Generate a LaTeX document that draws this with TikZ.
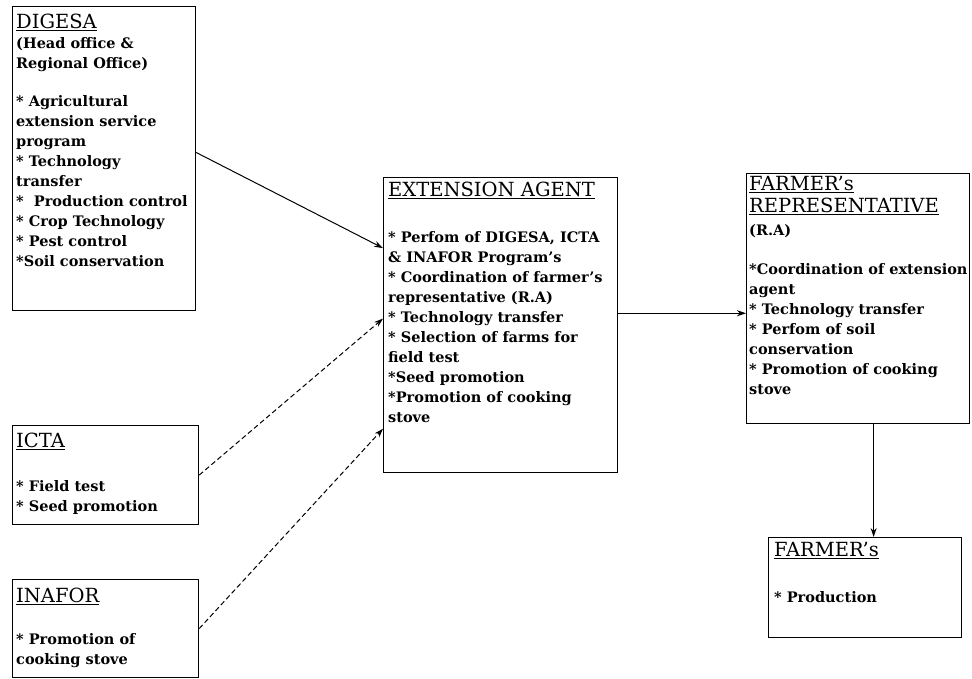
\documentclass[tikz,border=0pt]{standalone}
\usepackage{fontspec}
\setmainfont{DejaVu Serif}
\usetikzlibrary{arrows.meta,calc}
\newcommand{\ttl}[1]{{\fontsize{19.5}{20}\selectfont\mdseries\underline{#1}}}
\begin{document}
\begin{tikzpicture}[x=1pt,y=-1pt,
  frame/.style={draw, line width=1.2pt, inner sep=0pt, anchor=north west},
  txt/.style={anchor=north west, inner sep=0pt, align=left, font=\fontsize{14.5}{20}\selectfont\bfseries},
  arr/.style={line width=1pt, -{Stealth[length=9pt,width=6pt]}},
  darr/.style={arr, dash pattern=on 5pt off 3pt}]
\useasboundingbox (0,0) rectangle (972,679);

\node[frame, minimum width=183pt, minimum height=304pt] (digesa) at (12,6) {};
\node[txt] (digesaT) at ($(digesa.north west)+(4,8)$) {\ttl{DIGESA}\\
(Head office \&\\
Regional Office)\\[18pt]
* Agricultural\\
extension service\\
program\\
* Technology\\
transfer\\
*\ \ Production control\\
* Crop Technology\\
* Pest control\\
*Soil conservation};

\node[frame, minimum width=234pt, minimum height=295pt] (ea) at (383,177) {};
\node[txt] (eaT) at ($(ea.north west)+(5,5)$) {\ttl{EXTENSION AGENT}\\[26pt]
* Perfom of DIGESA, ICTA\\
\& INAFOR Program's\\
* Coordination of farmer's\\
representative (R.A)\\
* Technology transfer\\
* Selection of farms for\\
field test\\
*Seed promotion\\
*Promotion of cooking\\
stove};

\node[frame, minimum width=223pt, minimum height=250pt] (fr) at (746,173) {};
\node[txt] (frT) at ($(fr.north west)+(3,3)$) {\ttl{FARMER's}\\[2pt]
\ttl{REPRESENTATIVE}\\[3pt]
(R.A)\\[19pt]
*Coordination of extension\\
agent\\
* Technology transfer\\
* Perfom of soil\\
conservation\\
* Promotion of cooking\\
stove};

\node[frame, minimum width=186pt, minimum height=99pt] (icta) at (12,425) {};
\node[txt] (ictaT) at ($(icta.north west)+(4,8)$) {\ttl{ICTA}\\[24pt]
* Field test\\
* Seed promotion};

\node[frame, minimum width=186pt, minimum height=98pt] (inafor) at (12,579) {};
\node[txt] (inaforT) at ($(inafor.north west)+(4,9)$) {\ttl{INAFOR}\\[22pt]
* Promotion of\\
cooking stove};

\node[frame, minimum width=193pt, minimum height=100pt] (farmer) at (768,537) {};
\node[txt] (farmerT) at ($(farmer.north west)+(6,5)$) {\ttl{FARMER's}\\[26pt]
* Production};

\draw[arr] ($(digesa.north east)!0.48!(digesa.south east)$) -- ($(ea.north west)!0.24!(ea.south west)$);
\draw[darr] (icta.east) -- ($(ea.north west)!0.478!(ea.south west)$);
\draw[darr] (inafor.east) -- ($(ea.north west)!0.85!(ea.south west)$);
\coordinate (eafr) at ($(ea.north east)!0.46!(ea.south east)$);
\draw[arr] (eafr) -- (eafr -| fr.west);
\coordinate (fm) at ($(farmer.north)+(8.5,0)$);
\draw[arr] (fm |- fr.south) -- (fm);
\end{tikzpicture}
\end{document}
